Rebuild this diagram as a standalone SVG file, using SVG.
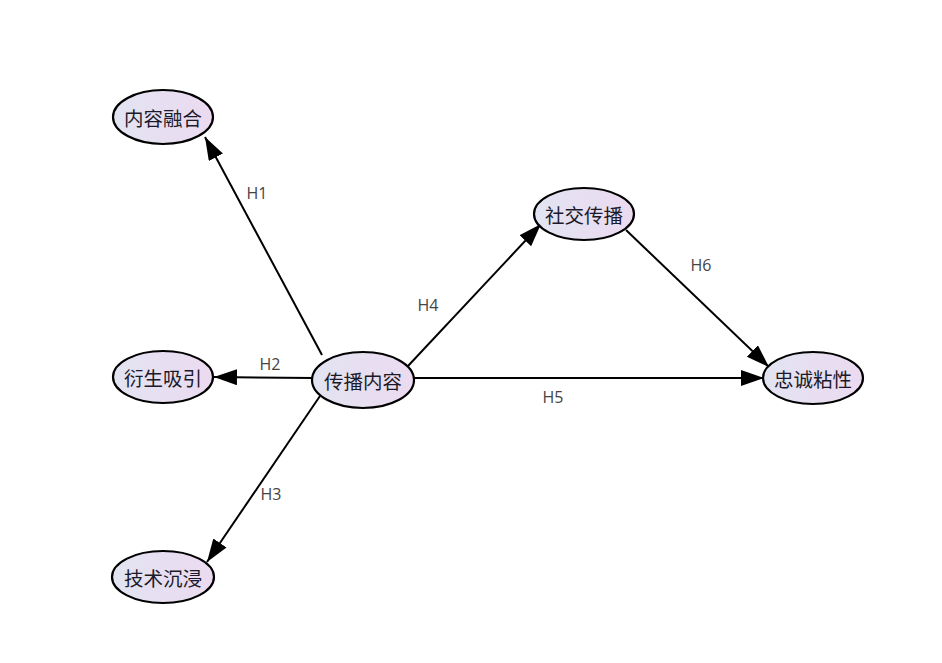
<svg xmlns="http://www.w3.org/2000/svg" width="942" height="663" viewBox="0 0 942 663">
<defs>
<linearGradient id="g" x1="0" y1="0" x2="1" y2="0">
<stop offset="0" stop-color="#e2e4f2"/>
<stop offset="1" stop-color="#ecdaf0"/>
</linearGradient>
<marker id="arr" markerUnits="userSpaceOnUse" markerWidth="26" markerHeight="18" refX="23" refY="8" orient="auto">
<path d="M0,0 L23,8 L0,16 z" fill="#000"/>
</marker>
<style>
.n ellipse{fill:url(#g);stroke:#000;stroke-width:2.2}
.n text{font-family:"Noto Sans CJK SC","Noto Sans",sans-serif;font-size:19.5px;fill:#1a1a2a;text-anchor:middle;dominant-baseline:central}
.c line{stroke:#000;stroke-width:2;marker-end:url(#arr)}
.c text{font-family:"Open Sans","Liberation Sans",sans-serif;font-size:16px;fill:#444;text-anchor:middle;dominant-baseline:central}
</style>
</defs>
<rect width="942" height="663" fill="#fff"/>
<g class="c" id="connectors">
<line x1="322" y1="355" x2="205" y2="137"/>
<line x1="313" y1="378" x2="214" y2="377"/>
<line x1="320" y1="396" x2="207" y2="562"/>
<line x1="408" y1="366" x2="541" y2="224"/>
<line x1="414" y1="378" x2="764" y2="378"/>
<line x1="626" y1="230" x2="769" y2="367"/>
<text x="257" y="193">H1</text>
<text x="270" y="364">H2</text>
<text x="271" y="494">H3</text>
<text x="428" y="305">H4</text>
<text x="553" y="397">H5</text>
<text x="701" y="265">H6</text>
</g>
<g class="n" id="n1"><ellipse cx="163" cy="117" rx="50" ry="27"/><text x="163" y="117">内容融合</text></g>
<g class="n" id="n2"><ellipse cx="163" cy="377" rx="50" ry="26"/><text x="163" y="377">衍生吸引</text></g>
<g class="n" id="n3"><ellipse cx="163" cy="577" rx="51" ry="26"/><text x="163" y="577">技术沉浸</text></g>
<g class="n" id="n4"><ellipse cx="363" cy="380" rx="51" ry="28"/><text x="363" y="380">传播内容</text></g>
<g class="n" id="n5"><ellipse cx="584" cy="214" rx="50" ry="26"/><text x="584" y="214">社交传播</text></g>
<g class="n" id="n6"><ellipse cx="813" cy="378" rx="50" ry="26"/><text x="813" y="378">忠诚粘性</text></g>
</svg>
